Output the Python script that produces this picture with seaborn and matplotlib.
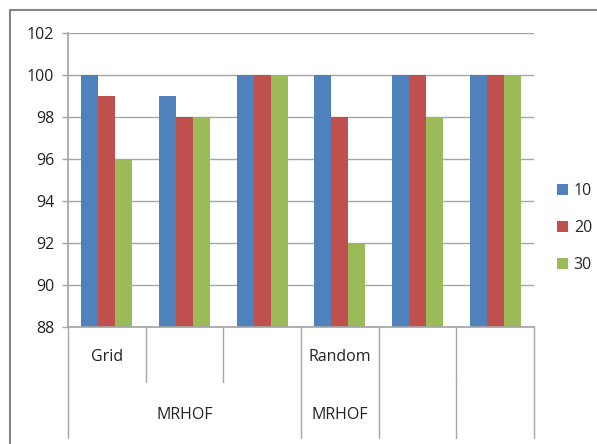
import matplotlib
matplotlib.use("Agg")
import matplotlib.pyplot as plt
import matplotlib.transforms as mtransforms
from matplotlib.lines import Line2D
from matplotlib.patches import Patch
import seaborn as sns
import pandas as pd

groups = ["G1", "G2", "G3", "G4", "G5", "G6"]
series = ["10", "20", "30"]
vals_10 = [100, 99, 100, 100, 100, 100]
vals_20 = [99, 98, 100, 98, 100, 100]
vals_30 = [96, 98, 100, 92, 98, 100]
level1_labels = ["Grid", "", "", "Random", "", ""]
level2_labels = [("MRHOF", 0, 2), ("MRHOF", 3, 3), ("", 4, 4), ("", 5, 5)]
yticks = [88, 90, 92, 94, 96, 98, 100, 102]
colors = ["#4F81BD", "#C0504D", "#9BBB59"]

rows = []
for s, vals in zip(series, [vals_10, vals_20, vals_30]):
    for g, v in zip(groups, vals):
        rows.append({"group": g, "series": s, "value": v})
df = pd.DataFrame(rows)

sns.set_theme(style="white")
plt.rcParams["font.family"] = ["Open Sans", "DejaVu Sans"]

fig = plt.figure(figsize=(5.97, 4.44), dpi=100)
ax = fig.add_axes([68 / 597, 1 - 327 / 444, (534 - 68) / 597, (327 - 33) / 444])

sns.barplot(data=df, x="group", y="value", hue="series", order=groups,
            hue_order=series, palette=colors, width=0.66, saturation=1,
            edgecolor="none", linewidth=0, legend=False, ax=ax)

ax.set_ylim(88, 102)
ax.set_xlim(-0.5, len(groups) - 0.5)
ax.set_yticks(yticks)
ax.set_yticklabels([str(t) for t in yticks], fontsize=11.5, color="#222222")
ax.yaxis.grid(True, color="#a6a6a6", linewidth=1)
ax.set_axisbelow(True)
ax.set_xticks([])
ax.set_xlabel("")
ax.set_ylabel("")
for side in ["top", "right"]:
    ax.spines[side].set_visible(False)
ax.spines["left"].set_color("#a6a6a6")
ax.spines["bottom"].set_color("#a6a6a6")
ax.tick_params(axis="y", which="both", left=True, length=4, width=1,
               color="#a6a6a6", pad=6)

trans = mtransforms.blended_transform_factory(ax.transData, ax.transAxes)
h = (327 - 33)
lvl1_bottom = -(382 - 327) / h
lvl2_bottom = -(438 - 327) / h

# level 1 separators
for i in range(len(groups) + 1):
    x = i - 0.5
    ax.plot([x, x], [0, lvl1_bottom], transform=trans, color="#a6a6a6",
            linewidth=1, clip_on=False)
# level 2 separators
bounds = set()
for _, a, b in level2_labels:
    bounds.add(a - 0.5)
    bounds.add(b + 0.5)
for x in sorted(bounds):
    ax.plot([x, x], [lvl1_bottom, lvl2_bottom], transform=trans,
            color="#a6a6a6", linewidth=1, clip_on=False)

for i, lab in enumerate(level1_labels):
    if lab:
        ax.text(i, -(357 - 327) / h, lab, transform=trans, ha="center",
                va="center", fontsize=11.5, color="#222222")
for lab, a, b in level2_labels:
    if lab:
        ax.text((a + b) / 2, -(415 - 327) / h, lab, transform=trans,
                ha="center", va="center", fontsize=11.5, color="#222222")

# outer chart border
fig.add_artist(Line2D([10 / 597, 10 / 597], [0, 1 - 10 / 444],
                      transform=fig.transFigure, color="#868686", linewidth=1.5))
fig.add_artist(Line2D([10 / 597, 1], [1 - 10 / 444, 1 - 10 / 444],
                      transform=fig.transFigure, color="#868686", linewidth=1.5))

handles = [Patch(facecolor=c, edgecolor="none") for c in colors]
fig.legend(handles, series, loc="center left",
           bbox_to_anchor=(557 / 597, 1 - 228 / 444), frameon=False,
           fontsize=11.5, handlelength=0.7, handleheight=0.7,
           handletextpad=0.35, labelspacing=1.3, borderpad=0, borderaxespad=0)

fig.savefig("out.png", dpi=100)
